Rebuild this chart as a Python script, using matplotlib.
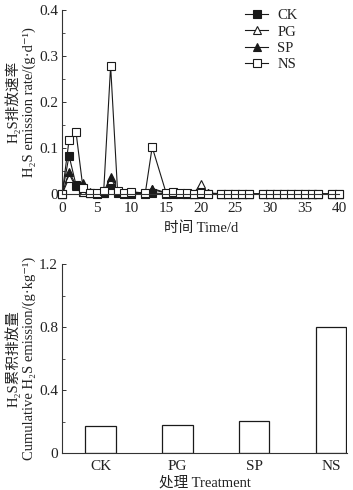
import matplotlib.pyplot as plt
from matplotlib.ticker import MultipleLocator

plt.rcParams['font.family'] = ['Liberation Serif', 'Noto Sans CJK SC', 'DejaVu Sans']
plt.rcParams['font.size'] = 11
plt.rcParams['text.color'] = '#222222'
plt.rcParams['axes.labelcolor'] = '#222222'
plt.rcParams['xtick.color'] = '#333333'
plt.rcParams['ytick.color'] = '#333333'
plt.rcParams['xtick.labelcolor'] = '#222222'
plt.rcParams['ytick.labelcolor'] = '#222222'

# 排放速率数据 (g·d-1)
days = [0, 1, 2, 3, 4, 5, 6, 7, 8, 9, 10, 12, 13, 15, 16, 17, 18, 19, 20, 21,
        23, 24, 25, 26, 27, 29, 30, 31, 32, 33, 34, 35, 36, 37, 39, 40]
ck = [0, 0.083, 0.020, 0.004, 0.002, 0.001, 0.002, 0.020, 0.002, 0.001, 0.001, 0.001, 0.002,
      0.001, 0.001, 0.001, 0.001, 0.000, 0.001, 0.001,
      0, 0, 0, 0, 0, 0, 0, 0, 0, 0, 0, 0, 0, 0, 0, 0]
pg = [0, 0.035, 0.017, 0.005, 0.003, 0.002, 0.003, 0.030, 0.004, 0.002, 0.002, 0.002, 0.010,
      0.002, 0.002, 0.002, 0.001, 0.001, 0.022, 0.002,
      0, 0.001, 0, 0, 0, 0, 0, 0, 0, 0, 0, 0, 0, 0, 0, 0]
sp = [0, 0.048, 0.020, 0.025, 0.004, 0.002, 0.004, 0.038, 0.004, 0.003, 0.003, 0.003, 0.012,
      0.003, 0.002, 0.002, 0.002, 0.001, 0.003, 0.002,
      0.001, 0.001, 0, 0, 0, 0, 0, 0, 0, 0, 0, 0, 0, 0, 0, 0]
ns = [0, 0.117, 0.135, 0.014, 0.003, 0.002, 0.006, 0.278, 0.007, 0.003, 0.005, 0.002, 0.102,
      0.003, 0.004, 0.003, 0.002, 0.001, 0.002, 0.001,
      0, 0.001, 0, 0, 0, 0, 0, 0, 0, 0, 0, 0, 0, 0, 0, 0]

# 累积排放量 (g·kg-1)
treatments = ['CK', 'PG', 'SP', 'NS']
cumulative = [0.17, 0.175, 0.205, 0.80]

fig = plt.figure(figsize=(3.53, 4.90), dpi=100)

# 上图：排放速率
ax1 = fig.add_axes([0.176, 0.604, 0.785, 0.376])
styles = [
    ('CK', ck, 's', '#1a1a1a'),
    ('PG', pg, '^', 'white'),
    ('SP', sp, '^', '#1a1a1a'),
    ('NS', ns, 's', 'white'),
]
for name, vals, mk, fc in styles:
    ax1.plot(days, vals, marker=mk, color='#1a1a1a', mfc=fc, mec='#1a1a1a',
             ms=5.5, lw=0.8, mew=0.8, label=name, clip_on=False)

ax1.set_xlim(0, 40)
ax1.set_ylim(0, 0.4)
ax1.xaxis.set_major_locator(MultipleLocator(5))
ax1.set_yticks([0, 0.1, 0.2, 0.3, 0.4])
ax1.set_yticklabels(['0', '0.1', '0.2', '0.3', '0.4'])
ax1.yaxis.set_minor_locator(MultipleLocator(0.05))
ax1.tick_params(direction='in', length=3, width=0.7)
ax1.tick_params(axis='x', pad=6)
ax1.tick_params(axis='y', pad=3)
ax1.tick_params(which='minor', direction='in', length=2, width=0.6)
for s in ['top', 'right']:
    ax1.spines[s].set_visible(False)
for s in ['left', 'bottom']:
    ax1.spines[s].set_linewidth(0.8)
    ax1.spines[s].set_color('#333333')
ax1.set_xlabel('时间 Time/d', labelpad=4, fontsize=10.5)
ax1.set_ylabel('H\u2082S排放速率\nH\u2082S emission rate/(g\u00b7d\u207b\u00b9)',
               labelpad=2, linespacing=1.25, fontsize=10.5)
ax1.legend(loc='upper right', frameon=False, handlelength=1.6, fontsize=10.5,
           handletextpad=0.6, labelspacing=0.2, borderaxespad=0.0,
           bbox_to_anchor=(0.87, 1.035))

# 下图：累积排放量
ax2 = fig.add_axes([0.176, 0.0755, 0.807, 0.3857])
x = list(range(len(treatments)))
ax2.bar(x, cumulative, width=0.4, color='white', edgecolor='#1a1a1a', linewidth=0.9)
ax2.set_xlim(-0.5, 3.21)
ax2.set_ylim(0, 1.2)
ax2.set_xticks(x)
ax2.set_xticklabels(treatments)
ax2.set_yticks([0, 0.4, 0.8, 1.2])
ax2.set_yticklabels(['0', '0.4', '0.8', '1.2'])
ax2.yaxis.set_minor_locator(MultipleLocator(0.2))
ax2.tick_params(axis='y', direction='in', length=3, width=0.7, pad=3)
ax2.tick_params(axis='y', which='minor', direction='in', length=2, width=0.6)
ax2.tick_params(axis='x', length=0, pad=5)
for s in ['top', 'right']:
    ax2.spines[s].set_visible(False)
for s in ['left', 'bottom']:
    ax2.spines[s].set_linewidth(0.8)
    ax2.spines[s].set_color('#333333')
ax2.set_xlabel('处理 Treatment', labelpad=2, fontsize=10.5)
ax2.set_ylabel('H\u2082S累积排放量\nCumulative H\u2082S emission/(g\u00b7kg\u207b\u00b9)',
               labelpad=2, linespacing=1.25, fontsize=10.5)

fig.savefig('out.png', dpi=100)
